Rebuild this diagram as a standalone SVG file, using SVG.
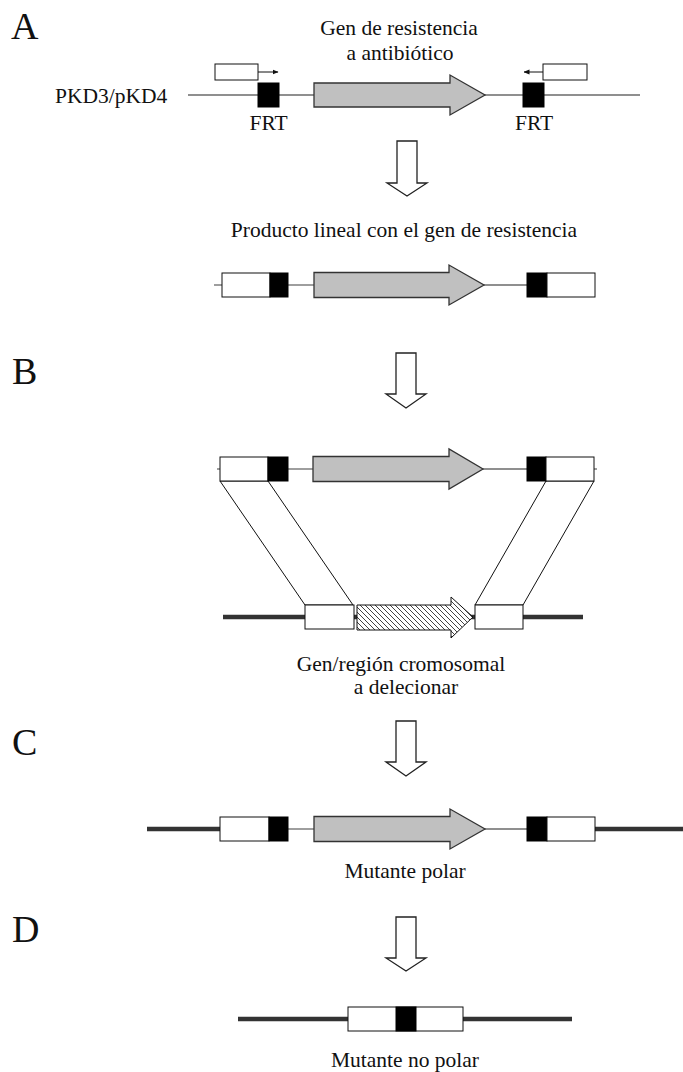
<svg xmlns="http://www.w3.org/2000/svg" width="683" height="1072" viewBox="0 0 683 1072">
<style>
text{font-family:"Liberation Serif","Times New Roman",serif;fill:#111}
.lbl{font-size:21.5px}
.big{font-size:38px}
.thin{stroke:#6a6a6a;stroke-width:1.3;fill:none}
.thick{stroke:#333;stroke-width:4.5;fill:none}
.wbox{fill:#fff;stroke:#111;stroke-width:1}
.frt{fill:#000;stroke:#000;stroke-width:1}
.gene{fill:#c0c0c0;stroke:#333;stroke-width:1.3}
.hat{fill:url(#hatch);stroke:#111;stroke-width:1}
.blk{fill:#fff;stroke:#222;stroke-width:1.3}
.para{fill:#fff;stroke:#111;stroke-width:1}
.prim{stroke:#111;stroke-width:1;fill:none}
</style>
<defs>
<pattern id="hatch" patternUnits="userSpaceOnUse" width="5" height="5">
<rect width="5" height="5" fill="#fff"/>
<path d="M0,0 L5,5 M-1,4 L1,6 M4,-1 L6,1" stroke="#111" stroke-width="0.8"/>
</pattern>
<marker id="ah" viewBox="0 0 6 6" refX="5.5" refY="3" markerWidth="6" markerHeight="6" orient="auto" markerUnits="userSpaceOnUse">
<path d="M0,0.5 L6,3 L0,5.5 Z" fill="#111"/>
</marker>
</defs>
<rect width="683" height="1072" fill="#fff"/>

<!-- Section labels -->
<g id="label-A"><text class="big" x="11" y="39">A</text></g>
<g id="label-B"><text class="big" x="12" y="384">B</text></g>
<g id="label-C"><text class="big" x="12" y="755">C</text></g>
<g id="label-D"><text class="big" x="12" y="942">D</text></g>

<!-- Row A: plasmid template -->
<g id="plasmid">
<line class="thin" x1="188" y1="95" x2="640" y2="95"/>
<text class="lbl" x="55" y="103">PKD3/pKD4</text>
<rect class="frt" x="258" y="83" width="21" height="24"/>
<rect class="frt" x="523" y="83" width="21" height="24"/>
<path class="gene" d="M314,83 H450 V75 L485,95 L450,115 V107 H314 Z"/>
<text class="lbl" x="268.5" y="130" text-anchor="middle">FRT</text>
<text class="lbl" x="534" y="130" text-anchor="middle">FRT</text>
<text class="lbl" x="399" y="35" text-anchor="middle">Gen de resistencia</text>
<text class="lbl" x="400" y="60" text-anchor="middle">a antibiótico</text>
</g>
<g id="primer-left">
<rect class="wbox" x="215" y="64" width="43" height="16"/>
<line class="prim" x1="258" y1="72" x2="278" y2="72" marker-end="url(#ah)"/>
</g>
<g id="primer-right">
<rect class="wbox" x="543" y="64" width="44" height="16"/>
<line class="prim" x1="543" y1="72" x2="524" y2="72" marker-end="url(#ah)"/>
</g>

<!-- Row A2: linear product -->
<g id="linear-product">
<line class="thin" x1="214" y1="285" x2="222" y2="285"/>
<line class="thin" x1="288" y1="285" x2="314" y2="285"/>
<line class="thin" x1="484" y1="285" x2="527" y2="285"/>
<rect class="wbox" x="222" y="273" width="48" height="24"/>
<rect class="frt" x="270" y="273" width="18" height="24"/>
<path class="gene" d="M314,272.5 H449 V265 L484,285 L449,305 V297.5 H314 Z"/>
<rect class="frt" x="527" y="273" width="20" height="24"/>
<rect class="wbox" x="547" y="273" width="48" height="24"/>
<text class="lbl" x="404" y="237" text-anchor="middle">Producto lineal con el gen de resistencia</text>
</g>

<!-- Row B: recombination -->
<g id="recomb-product">
<line class="thin" x1="217" y1="469" x2="220" y2="469"/>
<line class="thin" x1="288" y1="469" x2="313" y2="469"/>
<line class="thin" x1="483" y1="469" x2="527" y2="469"/>
<line class="thin" x1="594" y1="469" x2="597" y2="469"/>
<path class="para" d="M220,481 L268,481 L353,605 L305,605 Z"/>
<path class="para" d="M546,481 L594,481 L523,605 L475,605 Z"/>
<rect class="wbox" x="220" y="457" width="48" height="24"/>
<rect class="frt" x="268" y="457" width="20" height="24"/>
<path class="gene" d="M313,456.5 H449 V449 L483,469 L449,489 V481.5 H313 Z"/>
<rect class="frt" x="527" y="457" width="19" height="24"/>
<rect class="wbox" x="546" y="457" width="48" height="24"/>
</g>
<g id="chromosome">
<line class="thick" x1="223" y1="617" x2="583" y2="617"/>
<rect class="wbox" x="305" y="605" width="49" height="24"/>
<path class="hat" d="M357,605 H451 V597 L473,617 L451,638 V630 H357 Z"/>
<rect class="wbox" x="475" y="605" width="48" height="24"/>
<text class="lbl" x="401" y="671" text-anchor="middle">Gen/región cromosomal</text>
<text class="lbl" x="406" y="694" text-anchor="middle">a delecionar</text>
</g>

<!-- Row C: polar mutant -->
<g id="polar-mutant">
<line class="thick" x1="147" y1="829" x2="220" y2="829"/>
<line class="thick" x1="595" y1="829" x2="683" y2="829"/>
<line class="thin" x1="288" y1="829" x2="314" y2="829"/>
<line class="thin" x1="485" y1="829" x2="527" y2="829"/>
<rect class="wbox" x="220" y="817" width="49" height="24"/>
<rect class="frt" x="269" y="817" width="19" height="24"/>
<path class="gene" d="M314,816.5 H450 V809 L485,829 L450,849 V841.5 H314 Z"/>
<rect class="frt" x="527" y="817" width="20" height="24"/>
<rect class="wbox" x="547" y="817" width="48" height="24"/>
<text class="lbl" x="405" y="878" text-anchor="middle">Mutante polar</text>
</g>

<!-- Row D: non-polar mutant -->
<g id="nonpolar-mutant">
<line class="thick" x1="238" y1="1019" x2="572" y2="1019"/>
<rect class="wbox" x="348" y="1007" width="115" height="24"/>
<rect class="frt" x="396" y="1007" width="20" height="24"/>
<text class="lbl" x="405" y="1067" text-anchor="middle">Mutante no polar</text>
</g>

<!-- Connectors: block arrows -->
<g id="connectors">
<path class="blk" d="M397,141 H417 V183 H427 L407,196 L387,183 H397 Z"/>
<path class="blk" d="M396,353 H416 V394 H426 L406,408 L386,394 H396 Z"/>
<path class="blk" d="M396,721 H416 V762 H426 L406,776 L386,762 H396 Z"/>
<path class="blk" d="M396,917 H416 V958 H426 L406,971 L386,958 H396 Z"/>
</g>
</svg>
